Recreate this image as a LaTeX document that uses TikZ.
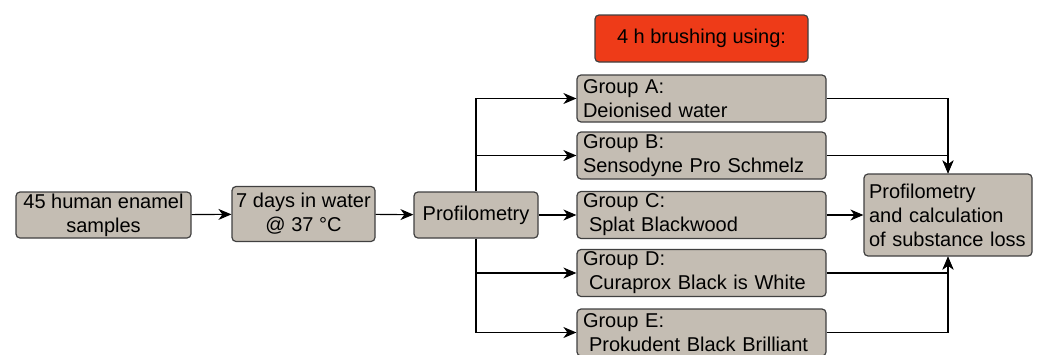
\documentclass[tikz,border=0pt]{standalone}
\usepackage{fontspec}
\setmainfont{Liberation Sans}
\usepackage{tikz}
\usetikzlibrary{arrows.meta}

\definecolor{boxfill}{RGB}{196,189,179}
\definecolor{boxline}{RGB}{64,64,64}
\definecolor{brushred}{RGB}{238,59,24}

\begin{document}
\begin{tikzpicture}[x=1pt,y=-1pt,->,>={Stealth[length=13pt,width=11pt,inset=4pt]},
        line width=1.1pt,
        stage/.style={draw=boxline,fill=boxfill,rounded corners=4pt,line width=1.2pt,
          font=\fontsize{20}{24}\selectfont,align=center,inner sep=0pt},
        group/.style={stage,minimum width=249pt,minimum height=47pt,
          text width=237pt,align=left},
        brush/.style={stage,fill=brushred,minimum width=213pt,minimum height=47pt}]

  \useasboundingbox (0,0) rectangle (1038,354);

  \node[stage,minimum width=175pt,minimum height=46pt] (samples) at (103.5,215) {45 human enamel\\samples};
  \node[stage,minimum width=143pt,minimum height=55pt] (water) at (303.5,214) {7 days in water\\@ 37 °C};
  \node[stage,minimum width=124pt,minimum height=46pt] (prof) at (476,215) {Profilometry};

  \node[brush] (brushing) at (701.5,38.5) {4 h brushing using:};
  \node[group] (grpA) at (701.5,98.5) {Group A:\\Deionised water};
  \node[group] (grpB) at (701.5,155.5) {Group B:\\Sensodyne Pro Schmelz};
  \node[group] (grpC) at (701.5,215) {Group C:\\\hspace*{0.3em}Splat Blackwood};
  \node[group] (grpD) at (701.5,273) {Group D:\\\hspace*{0.3em}Curaprox Black is White};
  \node[group] (grpE) at (701.5,332.5) {Group E:\\\hspace*{0.3em}Prokudent Black Brilliant};

  \node[stage,minimum width=168pt,minimum height=82pt,text width=158pt,align=left] (result) at (948,215)
    {Profilometry\\and calculation\\of substance loss};

  \draw (samples) -- (water);
  \draw (water) -- (prof);
  \draw (prof) -- (grpC);
  \draw (prof.north) |- (grpA);
  \draw (prof.north) |- (grpB);
  \draw (prof.south) |- (grpD);
  \draw (prof.south) |- (grpE);

  \draw (grpA) -| (result);
  \draw (grpB) -| (result);
  \draw (grpC) -- (result);
  \draw (grpD) -| (result);
  \draw (grpE) -| (result);

\end{tikzpicture}
\end{document}
